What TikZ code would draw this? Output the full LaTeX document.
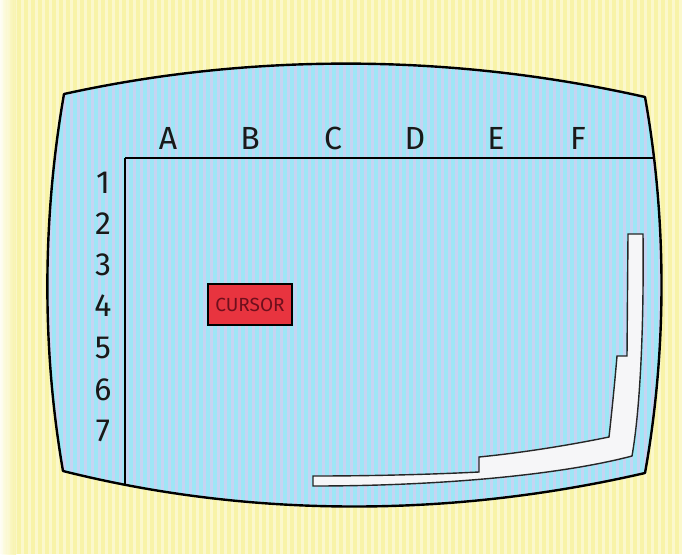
\documentclass[tikz,border=0pt]{standalone}
\usepackage{fontspec}
\setmainfont{Fira Sans}
\definecolor{ybase}{HTML}{F8F3A8}
\definecolor{ystripe}{HTML}{FBF8CC}
\definecolor{bbase}{HTML}{9EE6F6}
\definecolor{bstripe}{HTML}{C6D4F2}
\definecolor{cursorred}{HTML}{E8343F}
\definecolor{cursortext}{HTML}{6E0F1C}
\definecolor{stripwhite}{HTML}{F6F6F8}
\tikzset{
  outline/.style={draw=black, line width=2.4pt, line join=round},
  gridline/.style={draw=black, line width=2pt},
  heading/.style={font=\fontsize{32}{32}\selectfont, text=black!90, inner sep=0pt, anchor=base},
  cursorbox/.style={draw=black, line width=1.6pt, fill=cursorred, minimum width=84pt, minimum height=41pt, inner sep=0pt},
  stripedge/.style={draw=black!85, line width=1.4pt, fill=stripwhite, line join=miter}
}
\begin{document}
\begin{tikzpicture}[x=1pt,y=-1pt]
\useasboundingbox (0,0) rectangle (682,554);
% background
\fill[ybase] (0,0) rectangle (682,554);
\foreach \i in {0,7,...,686} {\fill[ystripe] (\i,0) rectangle ++(3,554);}
\shade[left color=white, right color=ybase, opacity=0.8] (0,0) rectangle (16,554);
% screen
\def\screenpath{(64,94) .. controls (250,53) and (450,53) .. (645,97)
  .. controls (667,220) and (667,350) .. (645,473)
  .. controls (450,518) and (250,518) .. (63,471)
  .. controls (42,350) and (42,220) .. cycle}
\fill[bbase] \screenpath;
\begin{scope}
  \clip \screenpath;
  \foreach \i in {0,7,...,686} {\fill[bstripe] (\i,0) rectangle ++(3,554);}
  \draw[gridline] (125,158) -- (700,158);
  \draw[gridline] (125,158) -- (125,560);
\end{scope}
\draw[outline] \screenpath;
% column headings
\foreach \c/\x in {A/168,B/250,C/333,D/415,E/496,F/578}
  \node[heading] (col\c) at (\x,149) {\c};
% row headings
\foreach \r/\y in {1/193,2/234,3/275,4/316,5/358,6/400,7/441}
  \node[heading] (row\r) at (103,\y) {\r};
% cursor
\node[cursorbox] (cursor) at (250,304.5) {};
\node[font=\fontsize{19}{19}\selectfont, text=cursortext, inner sep=0pt] (cursortxt) at (cursor.center) {CURSOR};
% white strip
\path[stripedge] (628,234) -- (643,234)
  .. controls (644,330) and (640,410) .. (632,456)
  .. controls (560,475) and (440,486) .. (313,486)
  -- (313,476)
  .. controls (380,476) and (440,474) .. (479,472)
  -- (479,457)
  .. controls (530,452) and (580,443) .. (609,437)
  .. controls (612,410) and (615,380) .. (617,356)
  -- (627,356) -- cycle;
\end{tikzpicture}
\end{document}
